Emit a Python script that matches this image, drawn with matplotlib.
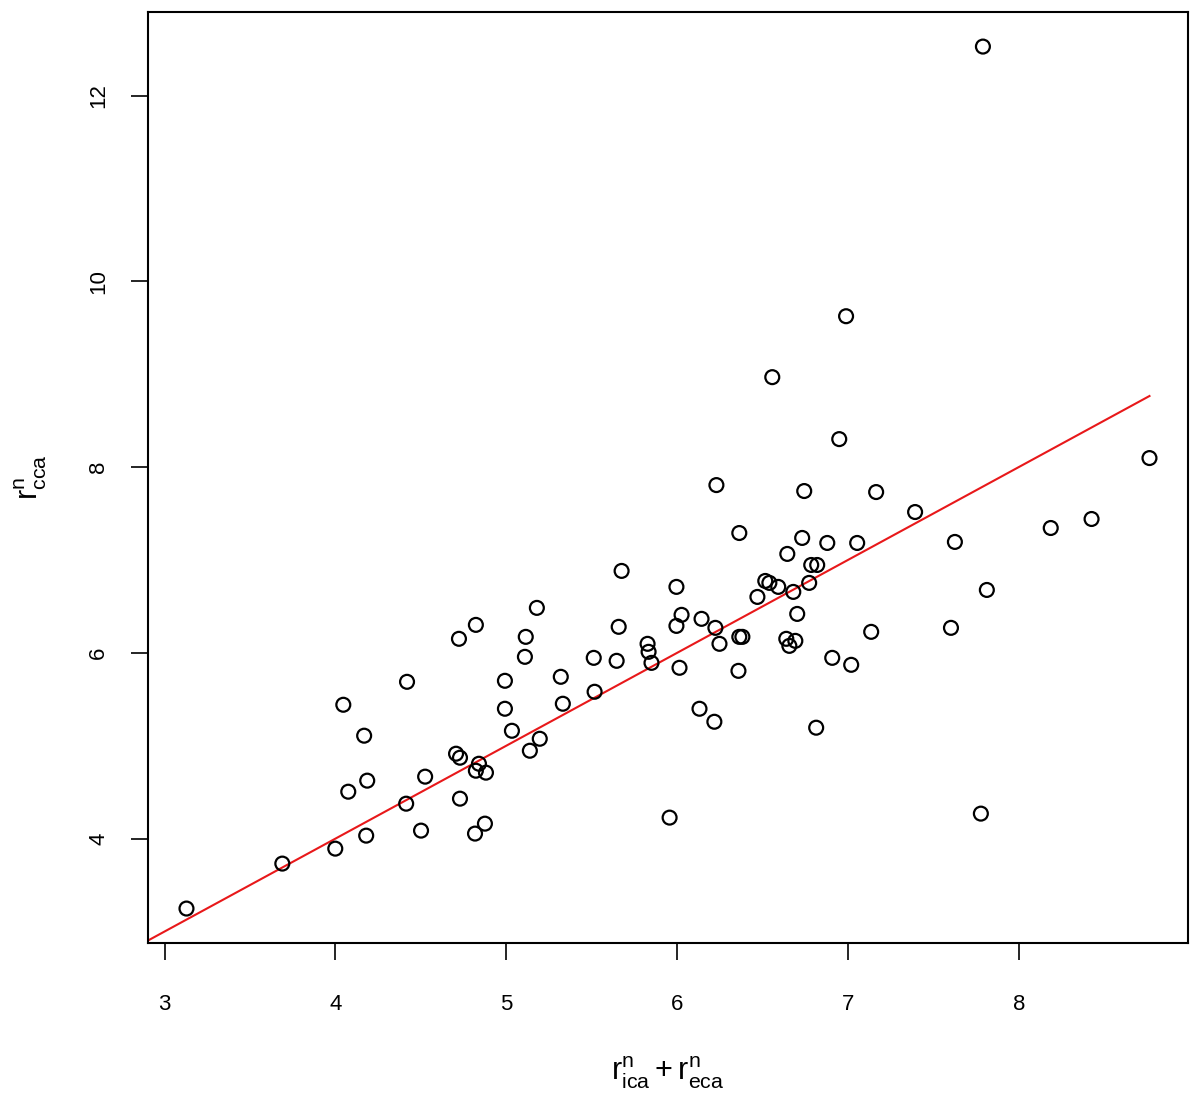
from matplotlib import pyplot as plt
import numpy as np

plt.rcParams['font.family'] = ['Liberation Sans', 'DejaVu Sans']
plt.rcParams['mathtext.fontset'] = 'custom'
plt.rcParams['mathtext.rm'] = 'Liberation Sans'
plt.rcParams['mathtext.it'] = 'Liberation Sans'

# r_ica^n + r_eca^n
x_sum = [3.128, 3.689, 3.999, 4.180, 4.075, 4.186, 4.046, 4.168, 4.419, 4.414,
         4.501, 4.525, 4.723, 4.822, 4.706, 4.729, 4.729, 4.840, 4.822, 4.881,
         4.817, 4.875, 4.992, 4.992, 5.033, 5.138, 5.196, 5.114, 5.109, 5.179,
         5.319, 5.331, 5.512, 5.517, 5.658, 5.675, 5.646, 5.827, 5.833, 5.850,
         5.956, 5.996, 6.026, 5.996, 6.014, 6.131, 6.143, 6.224, 6.218, 6.248,
         6.359, 6.364, 6.382, 6.470, 6.516, 6.540, 6.592, 6.645, 6.680, 6.703,
         6.639, 6.692, 6.657, 6.773, 6.785, 6.820, 6.814, 6.908, 7.019, 7.136,
         7.603, 7.813, 6.230, 6.744, 7.165, 7.393, 6.364, 6.732, 6.879, 7.054,
         7.626, 8.187, 8.426, 8.765, 6.949, 6.557, 6.989, 7.790, 7.778]

# r_cca^n
y_cca = [3.247, 3.731, 3.892, 4.032, 4.505, 4.624, 5.441, 5.108, 5.688, 4.376,
         4.086, 4.667, 6.151, 6.301, 4.914, 4.871, 4.430, 4.806, 4.731, 4.710,
         4.054, 4.161, 5.699, 5.398, 5.161, 4.946, 5.075, 6.172, 5.957, 6.484,
         5.742, 5.452, 5.946, 5.581, 6.280, 6.882, 5.914, 6.097, 6.011, 5.892,
         4.226, 6.710, 6.409, 6.290, 5.839, 5.398, 6.366, 6.269, 5.258, 6.097,
         5.806, 6.172, 6.172, 6.602, 6.774, 6.753, 6.710, 7.065, 6.656, 6.419,
         6.151, 6.129, 6.075, 6.753, 6.946, 6.946, 5.194, 5.946, 5.871, 6.226,
         6.269, 6.677, 7.806, 7.742, 7.731, 7.516, 7.290, 7.237, 7.183, 7.183,
         7.194, 7.344, 7.441, 8.097, 8.301, 8.968, 9.624, 12.527, 4.269]

fit_slope = 1.0
fit_intercept = 0.0

x_ticks = [3, 4, 5, 6, 7, 8]
y_ticks = [4, 6, 8, 10, 12]

fig = plt.figure(figsize=(12, 11), dpi=100)
ax = fig.add_axes([0.1233, 0.1427, 0.8667, 0.8463])

ax.scatter(x_sum, y_cca, s=10 ** 2, facecolors='none', edgecolors='black',
           linewidths=1.6, zorder=3)

x_range = max(x_sum) - min(x_sum)
y_range = max(y_cca) - min(y_cca)
xlim = (min(x_sum) - 0.04 * x_range, max(x_sum) + 0.04 * x_range)
ylim = (min(y_cca) - 0.04 * y_range, max(y_cca) + 0.04 * y_range)

line_x = np.array([xlim[0] - 0.5, max(x_sum)])
ax.plot(line_x, fit_intercept + fit_slope * line_x, color='#e8181a', linewidth=1.5, zorder=2)

ax.set_xlim(xlim)
ax.set_ylim(ylim)
ax.set_xticks(x_ticks)
ax.set_yticks(y_ticks)
ax.set_xticklabels([str(t) for t in x_ticks])
ax.set_yticklabels([str(t) for t in y_ticks], rotation=90, va='center')

for s in ax.spines.values():
    s.set_linewidth(1.5)
ax.tick_params(axis='both', direction='out', length=12, width=1.2, labelsize=16)
ax.tick_params(axis='x', pad=25)
ax.tick_params(axis='y', pad=16)

ax.set_xlabel(r'$\mathregular{r_{ica}^{n} + r_{eca}^{n}}$', fontsize=22, labelpad=28)
ax.set_ylabel(r'$\mathregular{r_{cca}^{n}}$', fontsize=22, labelpad=28)

fig.savefig('out.png', dpi=100)
